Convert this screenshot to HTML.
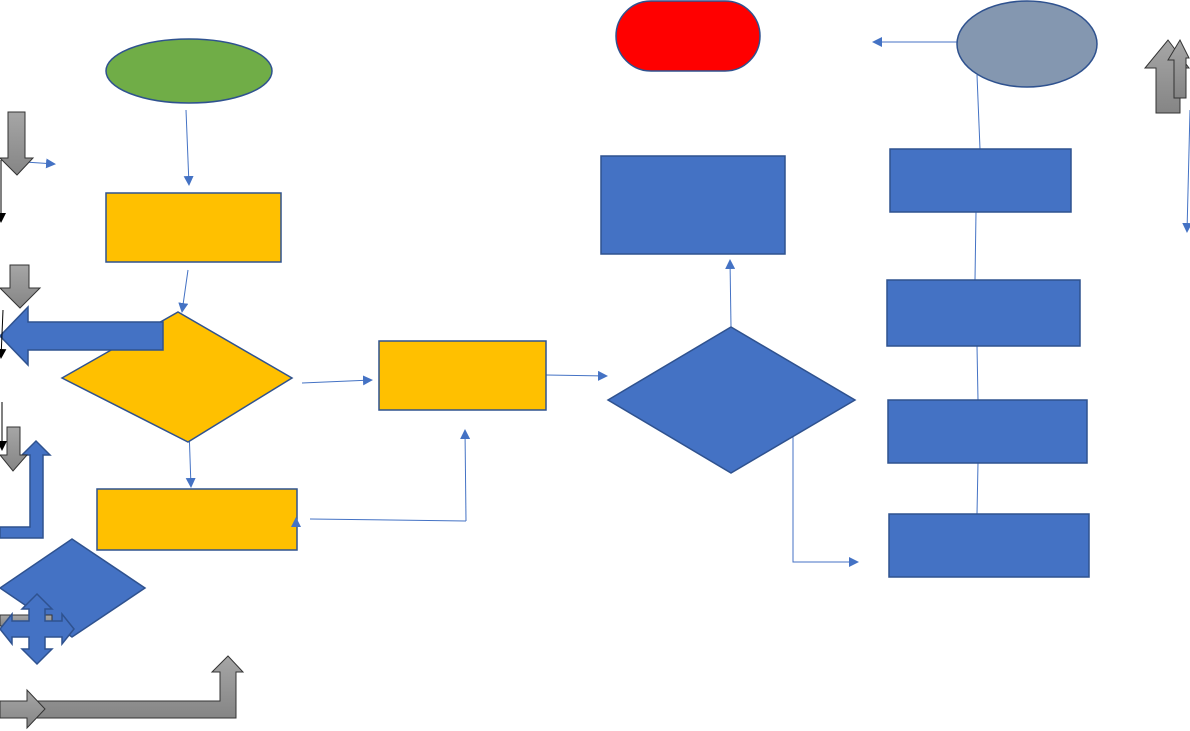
<!DOCTYPE html>
<html><head><style>html,body{margin:0;padding:0;background:#fff;width:1190px;height:731px;overflow:hidden}</style></head><body>
<svg width="1190" height="731" xmlns="http://www.w3.org/2000/svg">
<defs>
<marker id="a" markerWidth="10" markerHeight="10" refX="9" refY="5" orient="auto" markerUnits="userSpaceOnUse"><path d="M0,0L10,5L0,10z" fill="#4472C4"/></marker>
<marker id="k" markerWidth="10" markerHeight="10" refX="9" refY="5" orient="auto" markerUnits="userSpaceOnUse"><path d="M0,0L10,5L0,10z" fill="#000"/></marker>
<linearGradient id="g" x1="0" x2="0" y1="0" y2="1"><stop offset="0" stop-color="#a6a6a6"/><stop offset="1" stop-color="#858585"/></linearGradient>
</defs>
<g stroke="#4472C4" stroke-width="1" fill="none">
<line x1="186" y1="110" x2="189" y2="185" marker-end="url(#a)"/>
<line x1="188" y1="270" x2="182" y2="312" marker-end="url(#a)"/>
<line x1="189" y1="428" x2="191" y2="487" marker-end="url(#a)"/>
<line x1="302" y1="383" x2="372" y2="380" marker-end="url(#a)"/>
<line x1="546" y1="375" x2="607" y2="376" marker-end="url(#a)"/>
<line x1="310" y1="519" x2="466" y2="521"/>
<line x1="466" y1="521" x2="465" y2="430" marker-end="url(#a)"/>
<line x1="731" y1="327" x2="730" y2="260" marker-end="url(#a)"/>
<polyline points="793,437 793,562 858,562" marker-end="url(#a)"/>
<line x1="957" y1="42" x2="873" y2="42" marker-end="url(#a)"/>
<polyline points="977,75 980,149"/>
<line x1="976" y1="212" x2="975" y2="280"/>
<line x1="977" y1="346" x2="978" y2="400"/>
<line x1="978" y1="463" x2="977" y2="514"/>
<line x1="1190" y1="110" x2="1187" y2="232" marker-end="url(#a)"/>
<line x1="25" y1="162" x2="55" y2="164" marker-end="url(#a)"/>
</g>
<g stroke="#2F528F" stroke-width="1.5">
<ellipse cx="189" cy="71" rx="83" ry="32" fill="#70AD47"/>
<rect x="106" y="193" width="175" height="69" fill="#FFC000"/>
<polygon points="62,378 178,312 292,378 188,442" fill="#FFC000"/>
<rect x="97" y="489" width="200" height="61" fill="#FFC000"/>
<rect x="379" y="341" width="167" height="69" fill="#FFC000"/>
<polygon points="608,400 731,327 855,400 731,473" fill="#4472C4"/>
<rect x="601" y="156" width="184" height="98" fill="#4472C4"/>
<rect x="616" y="1" width="144" height="70" rx="35" fill="#FF0000"/>
<ellipse cx="1027" cy="44" rx="70" ry="43" fill="#8497B0"/>
<rect x="890" y="149" width="181" height="63" fill="#4472C4"/>
<rect x="887" y="280" width="193" height="66" fill="#4472C4"/>
<rect x="888" y="400" width="199" height="63" fill="#4472C4"/>
<rect x="889" y="514" width="200" height="63" fill="#4472C4"/>
<polygon points="0,336 28,307 28,322 163,322 163,350 28,350 28,365" fill="#4472C4"/>
<polygon points="0,527 30,527 30,455 22,455 36,441 50,455 43,455 43,538 0,538" fill="#4472C4"/>
<polygon points="0,588 72,539 145,588 72,637" fill="#4472C4"/>
</g>
<path d="M291,527L296,517L301,527z" fill="#4472C4"/>
<g stroke="#000" stroke-width="1">
<line x1="1" y1="160" x2="1" y2="222" marker-end="url(#k)"/>
<line x1="3" y1="310" x2="1" y2="358" marker-end="url(#k)"/>
<line x1="2" y1="402" x2="2" y2="450" marker-end="url(#k)"/>
</g>
<g stroke="#333" stroke-width="1" fill="url(#g)">
<polygon points="8,112 25,112 25,158 33,158 17,175 0,158 8,158"/>
<polygon points="10,265 29,265 29,288 40,288 20,308 0,288 10,288"/>
<polygon points="7,427 20,427 20,455 27,455 13,471 0,455 7,455"/>
<rect x="0" y="615" width="52" height="11"/>
<polygon points="1156,113 1156,68 1145,68 1168,40 1189,68 1180,68 1180,113"/>
<polygon points="1174,98 1174,60 1168,60 1180,40 1189,58 1186,58 1186,98"/>
<polygon points="30,701 220,701 220,672 212,672 228,656 243,672 236,672 236,718 30,718"/>
<polygon points="0,701 27,701 27,690 45,709 27,728 27,718 0,718"/>
</g>
<polygon points="37,594 52,609 45,609 45,621 62,621 62,614 74,629 62,644 62,637 45,637 45,649 52,649 37,664 22,649 29,649 29,637 12,637 12,644 0,629 12,614 12,621 29,621 29,609 22,609" fill="#4472C4" stroke="#2F528F" stroke-width="1.5"/>
</svg>
</body></html>
